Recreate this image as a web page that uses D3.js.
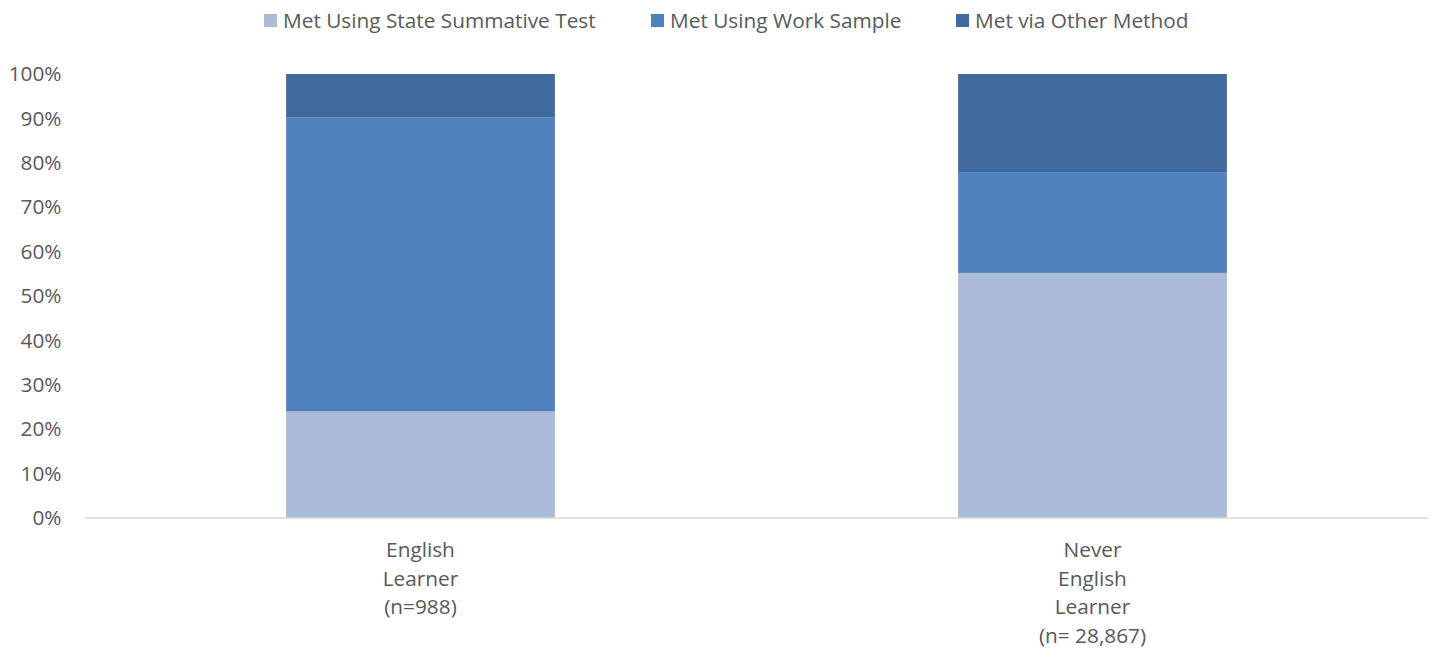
<!DOCTYPE html>
<html>
<head>
<meta charset="utf-8">
<script src="https://cdn.jsdelivr.net/npm/d3@7"></script>
<style>
  html, body { margin: 0; padding: 0; background: #fff; }
  svg { display: block; font-family: "Open Sans", "Noto Sans", sans-serif; }
</style>
</head>
<body>
<svg id="chart" width="1434" height="648"></svg>
<script>
// Groups shown along the x axis (each label split over several lines)
const categories = ["English Learner (n=988)", "Never English Learner (n= 28,867)"];
const categoryLines = [
  ["English", "Learner", "(n=988)"],
  ["Never", "English", "Learner", "(n= 28,867)"]
];

// Share of students meeting the requirement, by method (percent)
const seriesNames = ["Met Using State Summative Test", "Met Using Work Sample", "Met via Other Method"];
const summativeTest = [24.0, 55.2];
const workSample   = [66.2, 22.7];
const otherMethod  = [9.8, 22.1];

const yTicks = [0, 10, 20, 30, 40, 50, 60, 70, 80, 90, 100];
const colors = ["#ABBAD7", "#4F81BD", "#416A9C"];

const svg = d3.select("#chart");
const plot = { left: 84.5, right: 1428.5, top: 74, bottom: 518 };
const textColor = "#595959";
const fontSize = "20.8px";

const x = d3.scaleBand()
  .domain(categories)
  .range([plot.left, plot.right])
  .paddingInner(0.6)
  .paddingOuter(0.3);

const y = d3.scaleLinear()
  .domain([0, 100])
  .range([plot.bottom, plot.top]);

// Stack the three methods per group
const rows = categories.map((c, i) => ({
  category: c,
  [seriesNames[0]]: summativeTest[i],
  [seriesNames[1]]: workSample[i],
  [seriesNames[2]]: otherMethod[i]
}));
const stacked = d3.stack().keys(seriesNames)(rows);

svg.append("g")
  .selectAll("g")
  .data(stacked)
  .join("g")
  .attr("fill", (d, i) => colors[i])
  .selectAll("rect")
  .data(d => d)
  .join("rect")
  .attr("x", d => x(d.data.category))
  .attr("width", x.bandwidth())
  .attr("y", d => y(d[1]))
  .attr("height", d => y(d[0]) - y(d[1]));

// Baseline
svg.append("line")
  .attr("x1", plot.left).attr("x2", plot.right)
  .attr("y1", y(0)).attr("y2", y(0))
  .attr("stroke", "#D9D9D9").attr("stroke-width", 1.5);

// Y axis: labels only
const yAxis = svg.append("g")
  .attr("transform", `translate(${plot.left - 23},0)`)
  .call(d3.axisLeft(y).tickValues(yTicks).tickSize(0).tickPadding(0).tickFormat(d => d + "%"));
yAxis.select(".domain").remove();
yAxis.selectAll("text")
  .attr("fill", textColor)
  .style("font-size", fontSize)
  .style("font-family", "\"Open Sans\", sans-serif");

// X axis labels, multi-line, centred under each bar
const xLabels = svg.append("g");
categories.forEach((c, i) => {
  const t = xLabels.append("text")
    .attr("x", x(c) + x.bandwidth() / 2)
    .attr("y", 557)
    .attr("text-anchor", "middle")
    .attr("fill", textColor)
    .style("font-size", fontSize);
  categoryLines[i].forEach((line, j) => {
    t.append("tspan")
      .attr("x", x(c) + x.bandwidth() / 2)
      .attr("dy", j === 0 ? 0 : 28.7)
      .text(line);
  });
});

// Legend across the top
const legendX = [264, 651, 956];
const legend = svg.append("g");
seriesNames.forEach((name, i) => {
  legend.append("rect")
    .attr("x", legendX[i]).attr("y", 14)
    .attr("width", 13).attr("height", 13)
    .attr("fill", colors[i]);
  legend.append("text")
    .attr("x", legendX[i] + 19).attr("y", 28)
    .attr("fill", textColor)
    .style("font-size", fontSize)
    .text(name);
});
</script>
</body>
</html>
